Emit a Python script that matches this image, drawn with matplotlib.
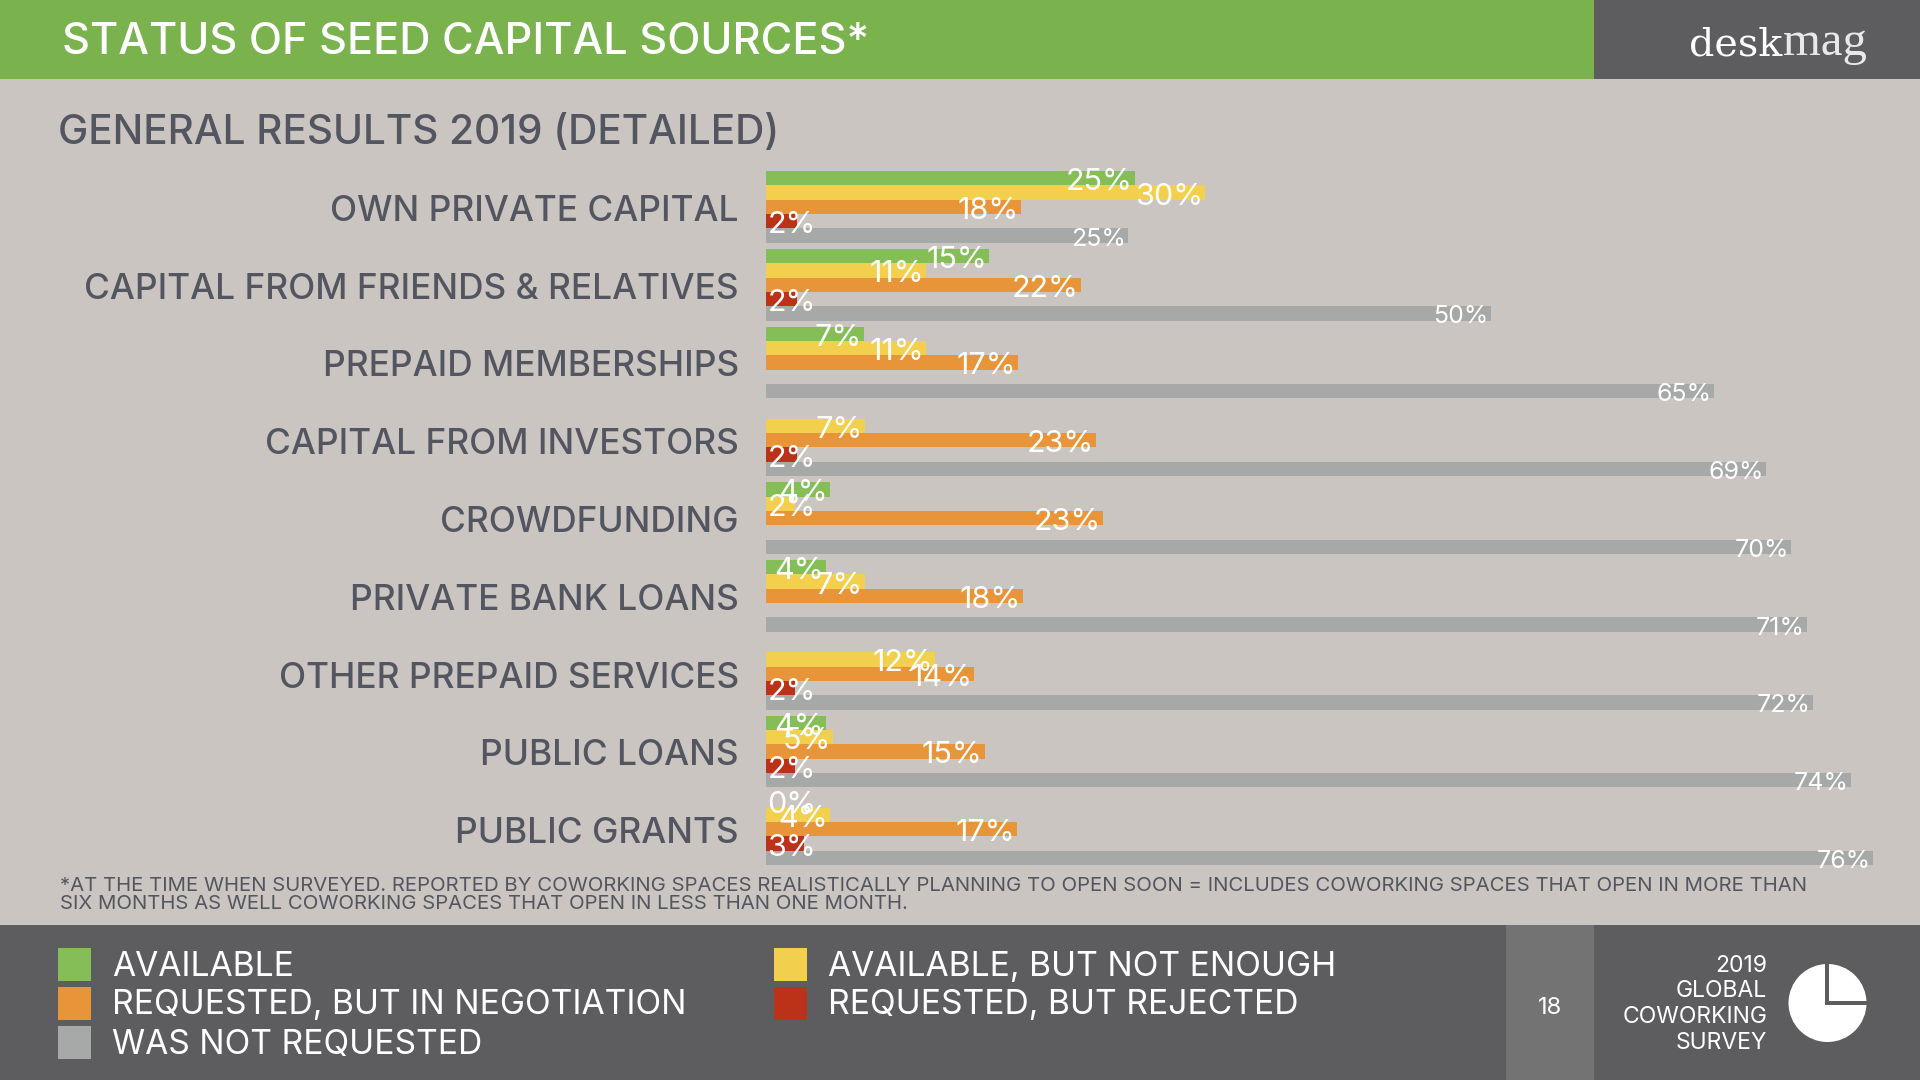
import numpy as np
from matplotlib import pyplot as plt
from matplotlib.patches import Circle, Rectangle

plt.rcParams['font.family'] = ['Inter', 'DejaVu Sans']

categories = ['OWN PRIVATE CAPITAL', 'CAPITAL FROM FRIENDS & RELATIVES',
              'PREPAID MEMBERSHIPS', 'CAPITAL FROM INVESTORS', 'CROWDFUNDING',
              'PRIVATE BANK LOANS', 'OTHER PREPAID SERVICES', 'PUBLIC LOANS',
              'PUBLIC GRANTS']

nan = np.nan
available = [25.3, 15.3, 6.7, nan, 4.4, 4.1, nan, 4.1, 0]
not_enough = [30.1, 11.0, 11.0, 6.8, 2.0, 6.8, 11.6, 4.6, 4.4]
negotiation = [17.5, 21.6, 17.3, 22.6, 23.1, 17.6, 14.3, 15.0, 17.2]
rejected = [2.1, 2.1, nan, 2.1, nan, nan, 2.0, 2.0, 2.6]
not_requested = [24.8, 49.7, 65.0, 68.6, 70.3, 71.4, 71.8, 74.4, 75.9]

series = [available, not_enough, negotiation, rejected, not_requested]
series_names = ['AVAILABLE', 'AVAILABLE, BUT NOT ENOUGH',
                'REQUESTED, BUT IN NEGOTIATION', 'REQUESTED, BUT REJECTED',
                'WAS NOT REQUESTED']
colors = ['#85BE57', '#F2D04E', '#E89438', '#BC3219', '#A7A8A8']

footnote = ['*AT THE TIME WHEN SURVEYED. REPORTED BY COWORKING SPACES REALISTICALLY PLANNING TO OPEN SOON = INCLUDES COWORKING SPACES THAT OPEN IN MORE THAN',
            'SIX MONTHS AS WELL COWORKING SPACES THAT OPEN IN LESS THAN ONE MONTH.']
survey_lines = ['2019', 'GLOBAL', 'COWORKING', 'SURVEY']

BG = '#CAC5C0'
DARK = '#5D5D60'
TEXT = '#535660'

fig = plt.figure(figsize=(19.2, 10.8), dpi=100, facecolor=BG)

# page furniture, in pixels
bg = fig.add_axes([0, 0, 1, 1])
bg.set_xlim(0, 1920)
bg.set_ylim(1080, 0)
bg.axis('off')

bg.add_patch(Rectangle((0, 0), 1594, 79, color='#7AB24E', lw=0))
bg.add_patch(Rectangle((1594, 0), 326, 79, color=DARK, lw=0))
bg.add_patch(Rectangle((0, 925), 1920, 155, color=DARK, lw=0))
bg.add_patch(Rectangle((1506, 925), 88, 155, color='#737373', lw=0))

bg.text(62, 43, 'STATUS OF SEED CAPITAL SOURCES*', color='white', fontsize=31.2,
        fontweight='medium', va='center')
bg.text(58, 133, 'GENERAL RESULTS 2019 (DETAILED)', color=TEXT, fontsize=29.2,
        fontweight='medium', va='center')
for y, line in zip([886, 904], footnote):
    bg.text(60, y, line, color=TEXT, fontsize=14.65, va='center')

bg.text(1689, 55, 'desk', color='white', fontsize=28.5,
        family='DejaVu Serif', va='baseline')
bg.text(1783, 55, 'mag', color='#E8E8E8', fontsize=35,
        family='Liberation Serif', va='baseline')

# legend
legend_pos = [(58, 964), (774, 964), (58, 1003), (774, 1003), (58, 1042)]
for (x, y), name, c in zip(legend_pos, series_names, colors):
    bg.add_patch(Rectangle((x, y - 16.5), 33, 33, color=c, lw=0))
    bg.text(x + 54, y + 2.5, name, color='white', fontsize=24.2, va='center')

bg.text(1550, 1008, '18', color='white', fontsize=17, ha='center', va='center')
for y, line in zip([966, 991, 1017, 1043], survey_lines):
    bg.text(1767, y, line, color='white', fontsize=16.5, ha='right', va='center')

# survey pie: white disc cut by two dark lines
bg.add_patch(Circle((1827.5, 1003), 39, color='white', lw=0))
bg.add_patch(Rectangle((1824.5, 960), 4, 45, color=DARK, lw=0))
bg.add_patch(Rectangle((1824.5, 1001), 46, 4, color=DARK, lw=0))

# chart
px_per_pct = 14.58
pitch = 77.8
bar_h = 14.35
ax = fig.add_axes([766 / 1920, 0, 1154 / 1920, (1080 - 171) / 1080])
ax.patch.set_alpha(0)
ax.set_xlim(0, 1154 / px_per_pct)
# group centred on its index, top of the first group at the top of the axes
h = bar_h / pitch
ax.set_ylim((1080 - 171) / pitch - 2.5 * h, -2.5 * h)
for s in ax.spines.values():
    s.set_visible(False)
ax.set_xticks([])

for j, (vals, c) in enumerate(zip(series, colors)):
    ypos = np.arange(len(categories)) + (j - 2) * h
    ax.barh(ypos, vals, height=h, color=c, lw=0)

# value labels sit just inside the bar end, small ones keep a minimum position
for j, vals in enumerate(series):
    ypos = np.arange(len(categories)) + (j - 2) * h
    size = 18 if j == 4 else 22
    for y, v in zip(ypos, vals):
        if np.isnan(v):
            continue
        x = max(v - 2 / px_per_pct, 50 / px_per_pct)
        ax.text(x, y + 1 / pitch, f'{round(v)}%', color='white', fontsize=size,
                ha='right', va='center_baseline')

ax.set_yticks(np.arange(len(categories)) + 1 / pitch)
ax.set_yticklabels(categories, fontsize=25.4, color=TEXT, fontweight='medium')
ax.tick_params(axis='y', length=0, pad=19.5)

fig.savefig('out.png', dpi=100, facecolor=BG)
